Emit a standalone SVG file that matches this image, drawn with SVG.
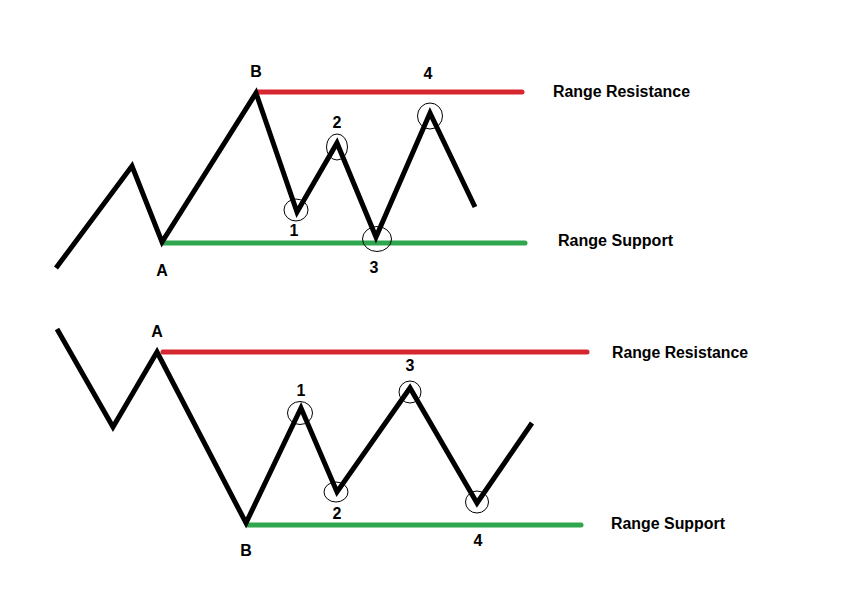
<svg xmlns="http://www.w3.org/2000/svg" width="843" height="592" viewBox="0 0 843 592">
<style>
.price{fill:none;stroke:#000;stroke-width:5;stroke-linejoin:miter;stroke-linecap:butt}
.res{stroke:#d6262f;stroke-width:5;stroke-linecap:round}
.sup{stroke:#2fa54d;stroke-width:5;stroke-linecap:round}
.mark{fill:none;stroke:#000;stroke-width:1}
text{font-family:"Liberation Sans",Arial,sans-serif;font-weight:bold;font-size:16px;fill:#000}
.pt{text-anchor:middle}
</style>
<rect width="843" height="592" fill="#fff"/>
<g id="top-chart">
  <g id="top-lines">
    <line class="res" x1="258" y1="92" x2="522" y2="92"/>
    <line class="sup" x1="163" y1="243" x2="525" y2="243"/>
  </g>
  <polyline class="price" points="56,268 132,166 162,242 256,93 297,212 337,143 376,237 430,113 475,207"/>
  <g id="top-marks">
    <ellipse class="mark" cx="296" cy="210" rx="12" ry="11"/>
    <ellipse class="mark" cx="337" cy="147" rx="10.5" ry="13"/>
    <ellipse class="mark" cx="377" cy="239" rx="14.5" ry="12.5"/>
    <ellipse class="mark" cx="430" cy="116" rx="12.5" ry="13"/>
  </g>
  <g id="top-labels">
    <text class="pt" x="256" y="77">B</text>
    <text class="pt" x="162" y="276">A</text>
    <text class="pt" x="294" y="236">1</text>
    <text class="pt" x="337" y="128">2</text>
    <text class="pt" x="374" y="273">3</text>
    <text class="pt" x="428" y="79">4</text>
    <text x="553" y="97" textLength="137" lengthAdjust="spacingAndGlyphs">Range Resistance</text>
    <text x="558" y="246" textLength="115" lengthAdjust="spacingAndGlyphs">Range Support</text>
  </g>
</g>
<g id="bottom-chart">
  <g id="bottom-lines">
    <line class="res" x1="163" y1="352" x2="587" y2="352"/>
    <line class="sup" x1="248" y1="525" x2="581" y2="525"/>
  </g>
  <polyline class="price" points="57,329 113,427 157,352 246,523 301,408 337,492 410,388 477,503 532,423"/>
  <g id="bottom-marks">
    <ellipse class="mark" cx="300" cy="413" rx="12.5" ry="11.5"/>
    <ellipse class="mark" cx="336" cy="492" rx="12" ry="10"/>
    <ellipse class="mark" cx="410" cy="392" rx="11" ry="11"/>
    <ellipse class="mark" cx="477" cy="502" rx="11.5" ry="11"/>
  </g>
  <g id="bottom-labels">
    <text class="pt" x="157" y="337">A</text>
    <text class="pt" x="246" y="556">B</text>
    <text class="pt" x="301" y="396">1</text>
    <text class="pt" x="337" y="519">2</text>
    <text class="pt" x="410" y="371">3</text>
    <text class="pt" x="478" y="546">4</text>
    <text x="612" y="358" textLength="136" lengthAdjust="spacingAndGlyphs">Range Resistance</text>
    <text x="611" y="529" textLength="114" lengthAdjust="spacingAndGlyphs">Range Support</text>
  </g>
</g>
</svg>
